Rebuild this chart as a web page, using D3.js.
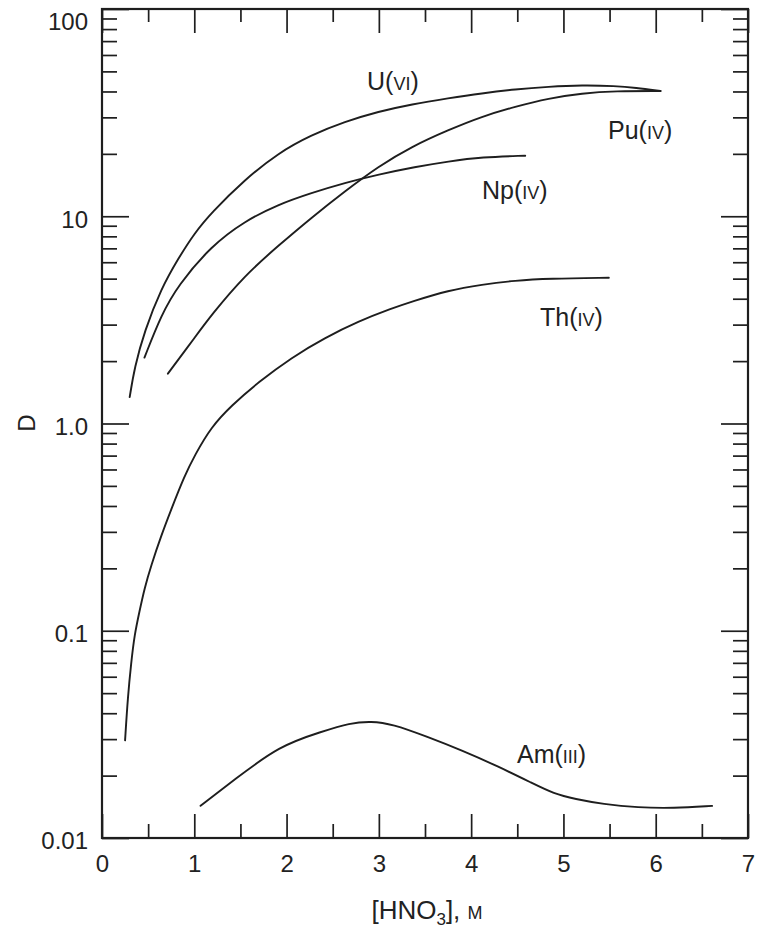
<!DOCTYPE html>
<html>
<head>
<meta charset="utf-8">
<script src="https://cdn.jsdelivr.net/npm/d3@7"></script>
<style>
  html, body { margin: 0; padding: 0; background: #fff; }
  svg { display: block; font-family: "Liberation Sans", Arial, Helvetica, sans-serif; }
  .tick text { fill: #222; }
</style>
</head>
<body>
<svg id="chart" width="762" height="928"></svg>
<script>
// Distribution ratio D versus nitric acid concentration
const xTicks = [0, 1, 2, 3, 4, 5, 6, 7];
const xMinorTicks = [0.5, 1.5, 2.5, 3.5, 4.5, 5.5, 6.5];
const yTicks = [0.01, 0.1, 1, 10, 100];
const yTickLabels = ["0.01", "0.1", "1.0", "10", "100"];

const uranium = [[0.30,1.34],[0.352,1.86],[0.46,2.79],[0.642,4.48],[0.823,6.22],[1.003,8.3],[1.185,10.4],[1.546,15.0],[1.909,20.2],[2.27,24.7],[2.632,28.6],[2.995,32.0],[3.356,34.7],[3.755,37.1],[4.116,39.2],[4.478,41.0],[4.84,42.2],[5.202,42.9],[5.564,42.5],[5.781,41.7],[6.052,40.2]];
const plutonium = [[0.714,1.74],[1.003,2.59],[1.185,3.34],[1.546,5.18],[1.909,7.20],[2.27,9.85],[2.632,13.2],[2.995,17.4],[3.356,21.7],[3.755,26.1],[4.116,30.3],[4.478,33.8],[4.84,37.1],[5.202,39.2],[5.564,40.2],[6.052,40.2]];
const neptunium = [[0.46,2.08],[0.642,3.34],[0.823,4.64],[1.185,7.20],[1.546,9.47],[1.909,11.4],[2.27,12.96],[2.632,14.5],[2.995,15.9],[3.392,17.3],[3.755,18.4],[4.116,19.3],[4.586,19.6]];
const thorium = [[0.25,0.0296],[0.28,0.048],[0.316,0.070],[0.352,0.0955],[0.406,0.124],[0.46,0.16],[0.533,0.207],[0.642,0.288],[0.75,0.385],[0.895,0.56],[1.003,0.70],[1.185,0.965],[1.402,1.22],[1.692,1.58],[2.053,2.08],[2.415,2.59],[2.777,3.11],[3.139,3.59],[3.356,3.87],[3.755,4.39],[4.116,4.68],[4.478,4.90],[4.84,5.0],[5.492,5.05]];
const americium = [[1.068,0.01429],[1.43,0.01905],[1.925,0.02795],[2.383,0.0326],[2.687,0.0359],[2.916,0.0366],[3.144,0.0355],[3.525,0.0308],[3.906,0.0264],[4.287,0.0222],[4.668,0.01834],[4.896,0.01635],[5.125,0.01543],[5.429,0.01457],[5.809,0.01401],[6.192,0.01391],[6.611,0.01429]];

const seriesNames = ["U", "Pu", "Np", "Th", "Am"];
const seriesOxidation = ["VI", "IV", "IV", "IV", "III"];
const seriesData = [uranium, plutonium, neptunium, thorium, americium];

const svg = d3.select("#chart");
const ink = "#1e1e1e";

const x = d3.scaleLinear().domain([0, 7]).range([102, 748]);
const y = d3.scaleLog().domain([0.01, 100]).range([838, 9]);

// minor log ticks: 2..9 in every decade
const yMinorTicks = [];
for (let e = -2; e < 2; e++) {
  for (let m = 2; m <= 9; m++) yMinorTicks.push(m * Math.pow(10, e));
}

function styleAxis(g) {
  g.select(".domain").remove();
  g.selectAll(".tick line").attr("stroke", ink).attr("stroke-width", 1.7);
  g.selectAll(".tick text").attr("font-size", 24);
}

const x0 = x.range()[0], x1 = x.range()[1];
const y0 = y.range()[0], y1 = y.range()[1];

// bottom axis
svg.append("g").attr("transform", `translate(0,${y0})`)
  .call(d3.axisBottom(x).tickValues(xTicks).tickSizeInner(-24).tickSizeOuter(0)
    .tickPadding(16).tickFormat(d3.format("d")))
  .call(styleAxis)
  .call(g => g.selectAll(".tick text").attr("dy", "0.75em"));
svg.append("g").attr("transform", `translate(0,${y0})`)
  .call(d3.axisBottom(x).tickValues(xMinorTicks).tickSizeInner(-14).tickSizeOuter(0).tickFormat(""))
  .call(styleAxis);

// top axis
svg.append("g").attr("transform", `translate(0,${y1})`)
  .call(d3.axisTop(x).tickValues(xTicks).tickSizeInner(-24).tickSizeOuter(0).tickFormat(""))
  .call(styleAxis);
svg.append("g").attr("transform", `translate(0,${y1})`)
  .call(d3.axisTop(x).tickValues(xMinorTicks).tickSizeInner(-13).tickSizeOuter(0).tickFormat(""))
  .call(styleAxis);

// left axis; the top label is nudged down so it stays inside the page
svg.append("g").attr("transform", `translate(${x0},0)`)
  .call(d3.axisLeft(y).tickValues(yTicks).tickSizeInner(-27).tickSizeOuter(0)
    .tickPadding(14).tickFormat((d, i) => yTickLabels[i]))
  .call(styleAxis)
  .call(g => g.selectAll(".tick text").attr("dy", d => d === 100 ? "0.85em" : "0.45em"));
svg.append("g").attr("transform", `translate(${x0},0)`)
  .call(d3.axisLeft(y).tickValues(yMinorTicks).tickSizeInner(-15).tickSizeOuter(0).tickFormat(""))
  .call(styleAxis);

// right axis
svg.append("g").attr("transform", `translate(${x1},0)`)
  .call(d3.axisRight(y).tickValues(yTicks).tickSizeInner(-27).tickSizeOuter(0).tickFormat(""))
  .call(styleAxis);
svg.append("g").attr("transform", `translate(${x1},0)`)
  .call(d3.axisRight(y).tickValues(yMinorTicks).tickSizeInner(-15).tickSizeOuter(0).tickFormat(""))
  .call(styleAxis);

// frame
svg.append("rect")
  .attr("x", x0).attr("y", y1)
  .attr("width", x1 - x0).attr("height", y0 - y1)
  .attr("fill", "none").attr("stroke", ink).attr("stroke-width", 2.2);

// curves
const line = d3.line()
  .x(d => x(d[0]))
  .y(d => y(d[1]))
  .curve(d3.curveBasis);

svg.append("g").selectAll("path")
  .data(seriesData)
  .join("path")
  .attr("d", line)
  .attr("fill", "none")
  .attr("stroke", ink)
  .attr("stroke-width", 1.9)
  .attr("stroke-linecap", "round");

// curve labels: element symbol with small-capital oxidation state
const labelPos = [[367, 90], [608, 139], [482, 199], [540, 326], [517, 763]];
const labels = svg.append("g").attr("fill", "#222").attr("font-size", 25);
seriesNames.forEach((name, i) => {
  const t = labels.append("text").attr("x", labelPos[i][0]).attr("y", labelPos[i][1]);
  t.append("tspan").text(name + "(");
  t.append("tspan").attr("font-size", 18).text(seriesOxidation[i]);
  t.append("tspan").text(")");
});

// axis titles
const xt = svg.append("text")
  .attr("x", 427).attr("y", 919)
  .attr("text-anchor", "middle")
  .attr("font-size", 26).attr("fill", "#222");
xt.append("tspan").text("[HNO");
xt.append("tspan").attr("font-size", 17).attr("dy", 6).text("3");
xt.append("tspan").attr("dy", -6).text("], ");
xt.append("tspan").attr("font-size", 18).text("M");

svg.append("text")
  .attr("transform", "translate(35,423) rotate(-90)")
  .attr("text-anchor", "middle")
  .attr("font-size", 24).attr("fill", "#222")
  .text("D");
</script>
</body>
</html>
